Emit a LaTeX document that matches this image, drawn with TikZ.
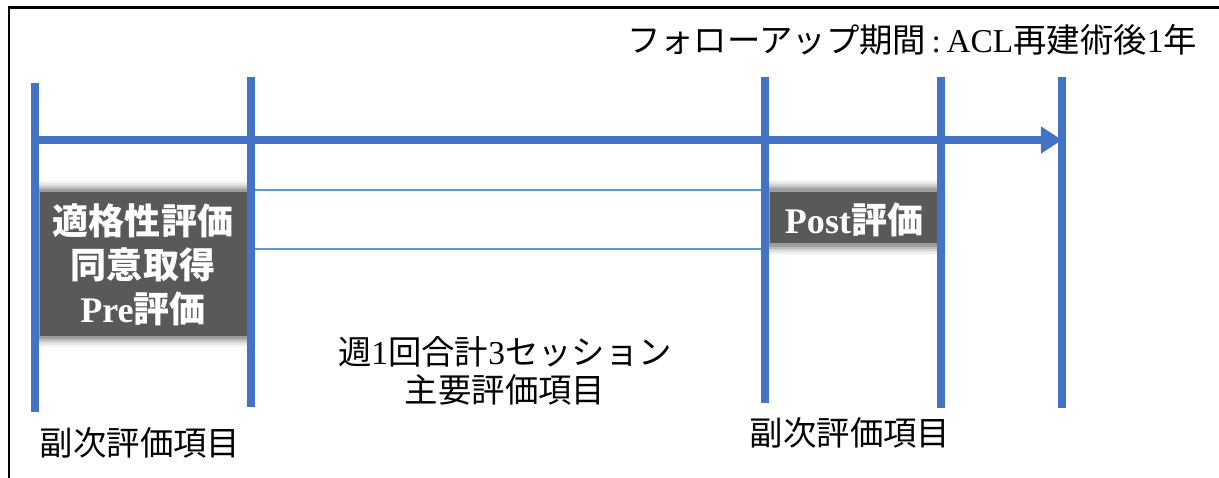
\documentclass[tikz,border=0pt]{standalone}
\usepackage{fontspec}
\setmainfont{Liberation Serif}
\newfontfamily\cjk{Noto Sans CJK JP}
\usetikzlibrary{arrows.meta}
\definecolor{tblue}{HTML}{4472C4}
\definecolor{lblue}{HTML}{5B9BD5}
\definecolor{boxgray}{HTML}{595959}
\begin{document}
\begin{tikzpicture}[x=0.02cm,y=-0.02cm,
  vline/.style={draw=tblue,line width=5.1pt},
  thinline/.style={draw=lblue,line width=1.1pt},
  lbl/.style={inner sep=0pt,text=black,font=\fontsize{19}{23}\selectfont},
  boxtxt/.style={inner sep=0pt,text=white,font=\fontsize{20.5}{25}\selectfont\bfseries},
]
\useasboundingbox (0,0) rectangle (1219,477);
% frame
\draw[black,line width=1.2pt] (9,480) -- (9,7.5) -- (1225,7.5);
% thin lines
\coordinate (t1l) at (255,190); \coordinate (t1r) at (762,190);
\coordinate (t2l) at (255,249); \coordinate (t2r) at (762,249);
\draw[thinline] (t1l) -- (t1r);
\draw[thinline] (t2l) -- (t2r);
% gray boxes with soft edges
\foreach \d/\o in {9/0.06,7/0.09,5/0.13,3/0.2,1/0.3}{
  \fill[boxgray,opacity=\o] (40-\d,190-\d) rectangle (247+\d,338+\d);
  \fill[boxgray,opacity=\o] (770-\d,189-\d) rectangle (938+\d,246+\d);
}
\fill[boxgray] (40,192) rectangle (247,336);
\fill[boxgray] (770,192) rectangle (938,243);
% vertical lines
\coordinate (v1t) at (35,83);  \coordinate (v1b) at (35,412);
\coordinate (v2t) at (251,77); \coordinate (v2b) at (251,407);
\coordinate (v3t) at (765,77); \coordinate (v3b) at (765,403);
\coordinate (v4t) at (941,77); \coordinate (v4b) at (941,408);
\coordinate (v5t) at (1062,77); \coordinate (v5b) at (1062,408);
\draw[vline] (v1t) -- (v1b);
\draw[vline] (v2t) -- (v2b);
\draw[vline] (v3t) -- (v3b);
\draw[vline] (v4t) -- (v4b);
\draw[vline] (v5t) -- (v5b);
% main arrow
\coordinate (a0) at (35,140); \coordinate (a1) at (1062,140);
\draw[draw=tblue,line width=5.1pt,-{Triangle[length=12pt,width=14.7pt]}] (a0) -- (a1);
% texts
\node[lbl] (title) at (912,40) {{\cjk フォローアップ期間}\,:\,ACL{\cjk 再建術後}1{\cjk 年}};
\node[boxtxt,align=center] (pre) at (143,265) {{\cjk 適格性評価}\\{\cjk 同意取得}\\Pre{\cjk 評価}};
\node[boxtxt] (post) at (854,220) {Post{\cjk 評価}};
\node[lbl,align=center,font=\fontsize{19}{21.5}\selectfont] (main) at (505,371) {{\cjk 週}1{\cjk 回合計}3{\cjk セッション}\\{\cjk 主要評価項目}};
\node[lbl] (sub1) at (140,443) {\cjk 副次評価項目};
\node[lbl] (sub2) at (850,433) {\cjk 副次評価項目};
\end{tikzpicture}
\end{document}
